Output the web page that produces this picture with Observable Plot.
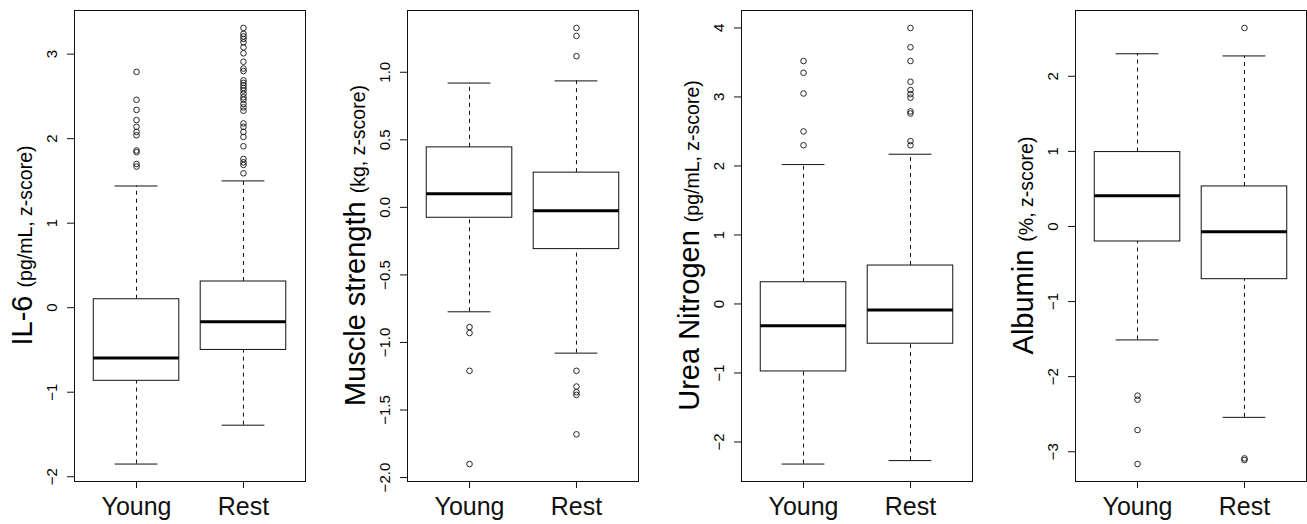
<!DOCTYPE html>
<html><head><meta charset="utf-8">
<script src="https://cdn.jsdelivr.net/npm/d3@7"></script>
<script src="https://cdn.jsdelivr.net/npm/@observablehq/plot@0.6"></script>
<style>
body{margin:0;background:#fff;}
#chart{position:relative;width:1307px;height:524px;overflow:hidden;background:#fff;}
#chart svg{position:absolute;top:0;}
</style></head><body><div id="chart"></div>
<script>
const groups = ["Young", "Rest"];

// IL-6 (pg/mL, z-score)
const il6Lower  = [-1.85, -1.39];
const il6Q1     = [-0.865, -0.50];
const il6Median = [-0.595, -0.165];
const il6Q3     = [0.10, 0.31];
const il6Upper  = [1.44, 1.50];
const il6OutYoung = [2.79, 2.46, 2.34, 2.22, 2.14, 2.08, 2.04, 1.86, 1.84, 1.70, 1.67];
const il6OutRest  = [3.31, 3.24, 3.21, 3.18, 3.14, 3.08, 3.01, 2.91, 2.83, 2.80, 2.69, 2.66, 2.63, 2.60, 2.57,
                     2.53, 2.49, 2.46, 2.41, 2.37, 2.33, 2.18, 2.14, 2.08, 2.02, 1.91, 1.76, 1.72, 1.69, 1.59];
const il6Ticks = [-2, -1, 0, 1, 2, 3];

// Muscle strength (kg, z-score)
const muscleLower  = [-0.773, -1.079];
const muscleQ1     = [-0.077, -0.309];
const muscleMedian = [0.10, -0.025];
const muscleQ3     = [0.444, 0.257];
const muscleUpper  = [0.92, 0.936];
const muscleOutYoung = [-0.886, -0.93, -1.21, -1.90];
const muscleOutRest  = [1.328, 1.269, 1.119, -1.21, -1.326, -1.368, -1.388, -1.68];
const muscleTicks = [-2.0, -1.5, -1.0, -0.5, 0.0, 0.5, 1.0];

// Urea Nitrogen (pg/mL, z-score)
const ureaLower  = [-2.32, -2.27];
const ureaQ1     = [-0.978, -0.576];
const ureaMedian = [-0.315, -0.087];
const ureaQ3     = [0.315, 0.557];
const ureaUpper  = [2.02, 2.17];
const ureaOutYoung = [3.52, 3.35, 3.05, 2.50, 2.30];
const ureaOutRest  = [4.00, 3.72, 3.52, 3.22, 3.10, 3.04, 2.99, 2.79, 2.76, 2.36, 2.30];
const ureaTicks = [-2, -1, 0, 1, 2, 3, 4];

// Albumin (%, z-score)
const albLower  = [-1.511, -2.542];
const albQ1     = [-0.20, -0.702];
const albMedian = [0.409, -0.071];
const albQ3     = [0.991, 0.533];
const albUpper  = [2.30, 2.271];
const albOutYoung = [-2.253, -2.307, -2.711, -3.164];
const albOutRest  = [2.644, -3.089, -3.111];
const albTicks = [-3, -2, -1, 0, 1, 2];

const panels = [
  {title: "IL-6", unit: "(pg/mL, z-score)", lower: il6Lower, q1: il6Q1, median: il6Median, q3: il6Q3, upper: il6Upper,
   outs: [il6OutYoung, il6OutRest], ticks: il6Ticks, fmt: d3.format("d")},
  {title: "Muscle strength", unit: "(kg, z-score)", lower: muscleLower, q1: muscleQ1, median: muscleMedian, q3: muscleQ3, upper: muscleUpper,
   outs: [muscleOutYoung, muscleOutRest], ticks: muscleTicks, fmt: d3.format(".1f")},
  {title: "Urea Nitrogen", unit: "(pg/mL, z-score)", lower: ureaLower, q1: ureaQ1, median: ureaMedian, q3: ureaQ3, upper: ureaUpper,
   outs: [ureaOutYoung, ureaOutRest], ticks: ureaTicks, fmt: d3.format("d")},
  {title: "Albumin", unit: "(%, z-score)", lower: albLower, q1: albQ1, median: albMedian, q3: albQ3, upper: albUpper,
   outs: [albOutYoung, albOutRest], ticks: albTicks, fmt: d3.format("d")}
];

const FONT = '"Liberation Sans", Arial, Helvetica, sans-serif';
const panelLefts = [0, 333, 667, 1001];
const W = 306, H = 524, ML = 74, MR = 1, MT = 10, MB = 43;
const ink = "#111";

const chart = document.getElementById("chart");

panels.forEach((p, k) => {
  const rows = groups.map((g, i) => ({pos: i + 1, lower: p.lower[i], q1: p.q1[i], median: p.median[i], q3: p.q3[i], upper: p.upper[i]}));
  const outs = p.outs.flatMap((arr, i) => arr.map(v => ({pos: i + 1, v})));
  const all = [...p.lower, ...p.upper, ...outs.map(d => d.v)];
  const lo = d3.min(all), hi = d3.max(all), pad = 0.04 * (hi - lo);
  const xlo = 0.5, xhi = groups.length + 0.5, xpad = 0.04 * (xhi - xlo);
  const half = 0.4, cap = 0.2;

  const svg = Plot.plot({
    width: W, height: H, marginLeft: ML, marginRight: MR, marginTop: MT, marginBottom: MB,
    style: {fontFamily: FONT, color: ink, background: "transparent", overflow: "visible"},
    x: {domain: [xlo - xpad, xhi + xpad]},
    y: {domain: [lo - pad, hi + pad]},
    marks: [
      Plot.ruleX(rows, {x: "pos", y1: "q3", y2: "upper", stroke: ink, strokeDasharray: "4,4"}),
      Plot.ruleX(rows, {x: "pos", y1: "lower", y2: "q1", stroke: ink, strokeDasharray: "4,4"}),
      Plot.ruleY(rows, {y: "upper", x1: d => d.pos - cap, x2: d => d.pos + cap, stroke: ink}),
      Plot.ruleY(rows, {y: "lower", x1: d => d.pos - cap, x2: d => d.pos + cap, stroke: ink}),
      Plot.rect(rows, {x1: d => d.pos - half, x2: d => d.pos + half, y1: "q1", y2: "q3", fill: "white", stroke: ink}),
      Plot.ruleY(rows, {y: "median", x1: d => d.pos - half, x2: d => d.pos + half, stroke: "#000", strokeWidth: 3}),
      Plot.dot(outs, {x: "pos", y: "v", r: 2.8, stroke: ink, strokeWidth: 0.9, fill: "none"}),
      Plot.frame({stroke: ink}),
      Plot.axisY({ticks: p.ticks, tickSize: 7, tickFormat: () => "", label: null}),
      Plot.text(p.ticks, {y: d => d, text: p.fmt, frameAnchor: "left", dx: -18, rotate: -90,
        fontSize: 15, textAnchor: "middle", lineAnchor: "bottom", fill: "#000"}),
      Plot.axisX({ticks: [1, 2], tickFormat: i => groups[i - 1], tickSize: 7, tickPadding: 9, fontSize: 25, label: null})
    ]
  });
  svg.style.left = panelLefts[k] + "px";
  const t = d3.select(svg).append("text")
    .attr("transform", `translate(${ML - 42},${MT + (H - MT - MB) / 2}) rotate(-90)`)
    .attr("text-anchor", "middle")
    .attr("fill", "#000")
    .style("font-family", FONT)
    .style("white-space", "pre");
  t.append("tspan").attr("font-size", 29).text(p.title + " ");
  t.append("tspan").attr("font-size", 19.5).text(p.unit);
  chart.appendChild(svg);
});
</script>
</body></html>
